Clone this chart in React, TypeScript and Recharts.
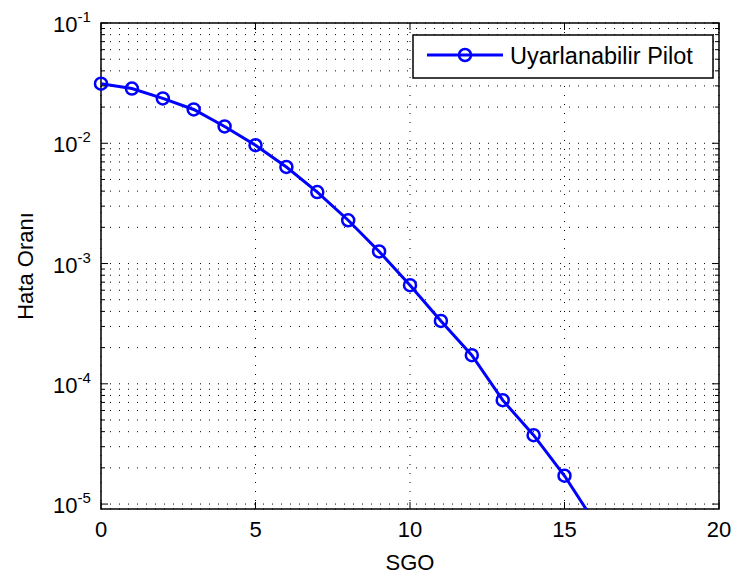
import { CartesianGrid, Legend, Line, LineChart, XAxis, YAxis, usePlotArea } from 'recharts'

// SGO (dB) vs. hata oranı
const sgo = [0, 1, 2, 3, 4, 5, 6, 7, 8, 9, 10, 11, 12, 13, 14, 15, 16]
const hataOrani = [
  0.0313, 0.0285, 0.0236, 0.0191, 0.0138, 0.00963, 0.00635, 0.00393, 0.00229, 0.00126,
  0.000661, 0.000333, 0.000173, 7.31e-5, 3.74e-5, 1.72e-5, 6.9e-6,
]
const seriesName = 'Uyarlanabilir Pilot'
const xTicks = [0, 5, 10, 15, 20]
const decades = [-5, -4, -3, -2, -1]
const minorSteps = [2, 3, 4, 5, 6, 7, 8, 9]
const yDomain = [9.1e-6, 0.1]

const CHART_W = 736
const CHART_H = 583
const MARGIN = { top: 23, right: 17, left: 0, bottom: 0 }
const PLOT_TOP = MARGIN.top
const PLOT_RIGHT = CHART_W - MARGIN.right
const FONT = '"Liberation Sans", Arial, Helvetica, sans-serif'
const BLUE = '#0000ff'

const data = sgo.map((x, i) => ({ sgo: x, rate: hataOrani[i] }))

const yTicks = decades.flatMap((k) => [
  Math.pow(10, k),
  ...(k < -1 ? minorSteps.map((m) => m * Math.pow(10, k)) : []),
])

function YTick({ x, y, payload }: any) {
  const lg = Math.log10(payload.value)
  const exp = Math.round(lg)
  const major = Math.abs(lg - exp) < 1e-6
  const len = major ? 7 : 4
  return (
    <g>
      <line x1={x} x2={x + len} y1={y} y2={y} stroke="#000" strokeWidth={1} />
      <line x1={PLOT_RIGHT} x2={PLOT_RIGHT - len} y1={y} y2={y} stroke="#000" strokeWidth={1} />
      {major && (
        <text x={x - 48} y={y + 9} fontSize={22} fontFamily={FONT} fill="#000">
          10
          <tspan dy={-10} fontSize={15}>{`${exp}`}</tspan>
        </text>
      )}
    </g>
  )
}

function XTick({ x, y, payload }: any) {
  return (
    <g>
      <line x1={x} x2={x} y1={y} y2={y - 7} stroke="#000" strokeWidth={1} />
      <line x1={x} x2={x} y1={PLOT_TOP} y2={PLOT_TOP + 7} stroke="#000" strokeWidth={1} />
      <text x={x} y={y + 28} textAnchor="middle" fontSize={22} fontFamily={FONT} fill="#000">
        {payload.value}
      </text>
    </g>
  )
}

function Frame() {
  const area = usePlotArea()
  if (!area) return null
  const cx = area.x + area.width / 2
  const cy = area.y + area.height / 2
  return (
    <g>
      <rect x={area.x} y={area.y} width={area.width} height={area.height} fill="none" stroke="#000" strokeWidth={1.5} />
      <text x={cx} y={area.y + area.height + 61} textAnchor="middle" fontSize={22} fontFamily={FONT} fill="#000">
        SGO
      </text>
      <text
        x={area.x - 68}
        y={cy}
        transform={`rotate(-90, ${area.x - 68}, ${cy})`}
        textAnchor="middle"
        fontSize={22}
        fontFamily={FONT}
        fill="#000"
      >
        Hata Oranı
      </text>
    </g>
  )
}

function LegendBox({ payload }: any) {
  const item = payload && payload[0]
  const color = item?.color || BLUE
  return (
    <svg width={302} height={45} style={{ display: 'block' }}>
      <rect x={1} y={1} width={300} height={43} fill="#fff" stroke="#000" strokeWidth={1.5} />
      <line x1={15} x2={91} y1={21} y2={21} stroke={color} strokeWidth={3} />
      <circle cx={53} cy={21} r={6} fill="none" stroke={color} strokeWidth={2.5} />
      <text x={98} y={30} fontSize={23.5} fontFamily={FONT} fill="#000">
        {item?.value ?? seriesName}
      </text>
    </svg>
  )
}

export default function App() {
  return (
    <div style={{ position: 'absolute', left: 0, top: 0, width: CHART_W, height: CHART_H, background: '#fff' }}>
      <LineChart width={CHART_W} height={CHART_H} data={data} margin={MARGIN}>
        <CartesianGrid stroke="#000" strokeWidth={1} strokeDasharray="1 8" />
        <XAxis
          dataKey="sgo"
          type="number"
          domain={[0, 20]}
          ticks={xTicks}
          height={74}
          axisLine={false}
          tickLine={false}
          tickSize={0}
          tickMargin={0}
          tick={XTick}
          interval={0}
        />
        <YAxis
          dataKey="rate"
          scale="log"
          type="number"
          domain={yDomain}
          allowDataOverflow
          ticks={yTicks}
          width={101}
          axisLine={false}
          tickLine={false}
          tickSize={0}
          tickMargin={0}
          tick={YTick}
          interval={0}
        />
        <Legend
          layout="vertical"
          align="center"
          verticalAlign="middle"
          content={LegendBox}
          wrapperStyle={{ position: 'absolute', left: 412, top: 34, width: 302, height: 45 }}
        />
        <Line
          type="linear"
          dataKey="rate"
          name={seriesName}
          stroke={BLUE}
          strokeWidth={3}
          dot={{ r: 6, fill: 'none', stroke: BLUE, strokeWidth: 2.5 }}
          activeDot={false}
          isAnimationActive={false}
        />
        <Frame />
      </LineChart>
    </div>
  )
}
